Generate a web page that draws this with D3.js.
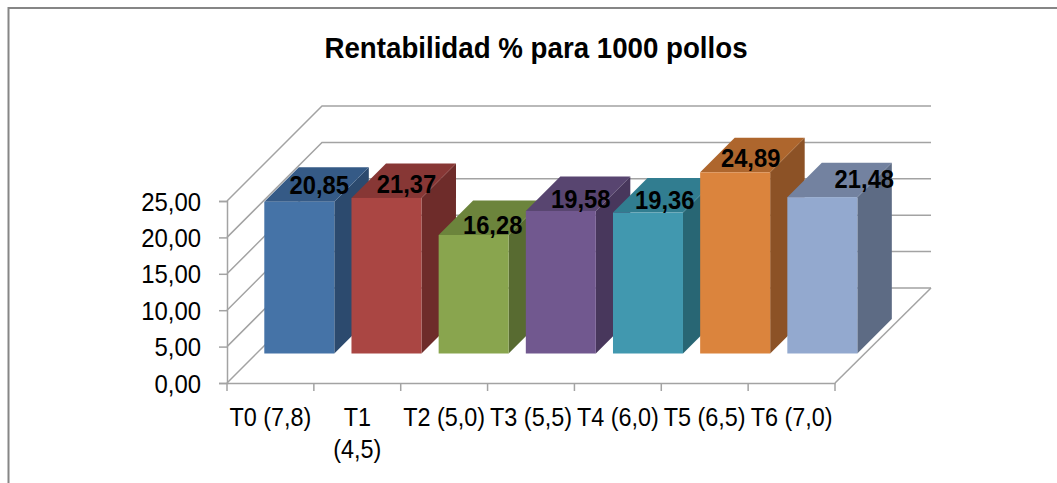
<!DOCTYPE html>
<meta charset="utf-8">
<style>
    body { margin: 0; background: #fff; }
    text { font-family: "Liberation Sans", sans-serif; fill: #000; }
    .grid { fill: none; stroke: #a3a3a3; stroke-width: 1.5px; }
</style>
<body>
<svg id="chart" width="1057" height="483" style="display:block"></svg>
<script src="https://d3js.org/d3.v7.min.js"></script>
<script>
var categories = ["T0 (7,8)", "T1 (4,5)", "T2 (5,0)", "T3 (5,5)", "T4 (6,0)", "T5 (6,5)", "T6 (7,0)"];
var values = [20.85, 21.37, 16.28, 19.58, 19.36, 24.89, 21.48];
var labels = ["20,85", "21,37", "16,28", "19,58", "19,36", "24,89", "21,48"];
var yTicks = [0, 5, 10, 15, 20, 25];
var faceColors = ["#4573a7", "#aa4643", "#89a54e", "#71588f", "#4198af", "#db843d", "#93a9cf"];
var topColors = ["#355a86", "#873735", "#6c843c", "#584570", "#317d90", "#ae662d", "#7382a0"];
var sideColors = ["#2c4a6e", "#6e2c2a", "#586b31", "#48375c", "#286674", "#8c5226", "#5d6b84"];

var svg = d3.select("#chart");

// narrow font is not installed, so squeeze the text horizontally
function squeezed(px, py, size, sx, str) {
    return svg.append("text").attr("text-anchor", "middle").attr("font-size", size)
        .attr("transform", "translate(" + px + "," + py + ") scale(" + sx + ",1)").text(str);
}

// frame
svg.append("path").attr("d", "M8.5,483V8H1057").attr("fill", "none").attr("stroke", "#868686").attr("stroke-width", 2);

var x = d3.scaleBand().domain(categories).range([227, 835]);
var barX = d3.scaleBand().domain(categories).range([264.3, 874.5]);
var y = d3.scaleLinear().domain([0, 25]).range([383, 201]);
var wallDepth = 95, barBase = 353.5, barDepth = 34.5, barWidth = 70;

// walls and floor
yTicks.forEach(function(t) {
    svg.append("path").attr("class", "grid")
        .attr("d", "M227," + y(t) + "L" + (227 + wallDepth) + "," + (y(t) - wallDepth) + "H" + (836 + wallDepth));
});
svg.append("path").attr("class", "grid")
    .attr("d", "M835,383L" + (836 + wallDepth) + "," + (383 - wallDepth));

// axes
var yAxis = d3.axisLeft(y).tickValues(yTicks).tickSize(8).tickFormat(function(d) { return d3.format(".2f")(d).replace(".", ","); });
var gy = svg.append("g").attr("transform", "translate(227,0)").call(yAxis);
gy.selectAll("line,path").attr("stroke", "#a3a3a3").attr("stroke-width", 1.5);
gy.selectAll("text").attr("font-size", 26).attr("font-family", "Liberation Sans")
    .attr("x", 0).attr("dy", 0).attr("transform", "translate(-26,9) scale(.92,1)");

var xAxis = d3.axisBottom(x).tickSize(0).tickFormat("");
var gx = svg.append("g").attr("transform", "translate(0,383)").call(xAxis);
gx.selectAll("path").attr("stroke", "#a3a3a3").attr("stroke-width", 1.5);
d3.range(categories.length + 1).forEach(function(i) {
    var px = 227 + i * x.bandwidth();
    gx.append("line").attr("x1", px).attr("x2", px).attr("y1", 0).attr("y2", 8).attr("stroke", "#a3a3a3").attr("stroke-width", 1.5);
});

// category labels, T1 wraps in the original
categories.forEach(function(c, i) {
    var cx = x(c) + x.bandwidth() / 2;
    if (i == 1) {
        var parts = c.split(" ");
        squeezed(cx, 426, 26, .9, parts[0]);
        squeezed(cx, 458, 26, .9, parts[1]);
    } else {
        squeezed(cx, 426, 26, .9, c);
    }
});

// bars
categories.forEach(function(c, i) {
    var x0 = barX(c), x1 = x0 + barWidth;
    var yb = barBase, yt = yb - (y(0) - y(values[i]));
    var g = svg.append("g");
    g.append("path").attr("fill", sideColors[i])
        .attr("d", "M" + x1 + "," + yb + "V" + yt + "l" + barDepth + "," + (-barDepth) + "V" + (yb - barDepth) + "Z");
    g.append("path").attr("fill", topColors[i])
        .attr("d", "M" + x0 + "," + yt + "H" + x1 + "l" + barDepth + "," + (-barDepth) + "H" + (x0 + barDepth) + "Z");
    g.append("rect").attr("fill", faceColors[i]).attr("x", x0).attr("y", yt).attr("width", barWidth).attr("height", yb - yt);
});

// value labels, nudged by hand like the original
var labelDx = [55, 55, 54, 55, 51.7, 50.5, 77];
var labelDy = [7.4, 5.3, 1, 3, 3.7, 5, 9];
categories.forEach(function(c, i) {
    var yt = barBase - (y(0) - y(values[i]));
    squeezed(barX(c) + labelDx[i], yt - labelDy[i], 25, .95, labels[i]).attr("font-weight", "bold");
});

squeezed(536, 58.3, 30, .923, "Rentabilidad % para 1000 pollos").attr("font-weight", "bold");
</script>
</body>
